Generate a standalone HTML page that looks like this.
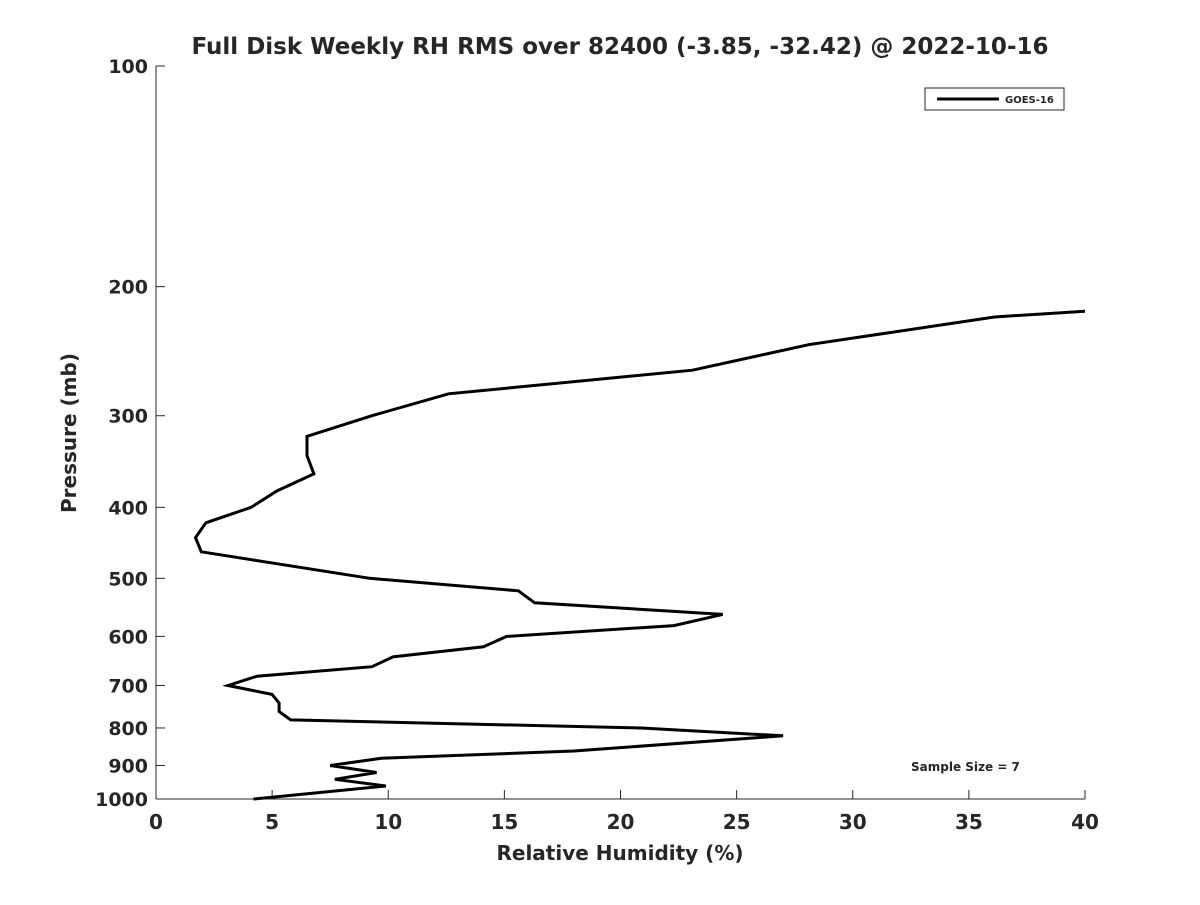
<!DOCTYPE html>
<html><head><meta charset="utf-8"><style>
body{margin:0;background:#fff;}
svg text{font-family:"DejaVu Sans","Liberation Sans",sans-serif;font-weight:bold;fill:#262626;}
</style></head><body>
<svg id="chart" width="1200" height="900" xmlns="http://www.w3.org/2000/svg">
<rect width="1200" height="900" fill="#fff"/>
<text x="620" y="54" font-size="23" text-anchor="middle">Full Disk Weekly RH RMS over 82400 (-3.85, -32.42) @ 2022-10-16</text>
<g id="axes"></g>
<text x="620" y="860" font-size="20" text-anchor="middle">Relative Humidity (%)</text>
<text transform="translate(76,433) rotate(-90)" font-size="20" text-anchor="middle">Pressure (mb)</text>
<g>
<rect x="925" y="88" width="139" height="22" fill="#fff" stroke="#262626" stroke-width="1"/>
<line x1="937" y1="99" x2="999" y2="99" stroke="#000" stroke-width="3"/>
<text x="1005" y="103" font-size="10">GOES-16</text>
</g>
<text x="911" y="771" font-size="12">Sample Size = 7</text>
</svg>
<script>
const pressures=[216,220,240,260,280,300,320,340,360,380,400,420,440,460,500,520,540,560,580,600,620,640,660,680,700,720,740,760,780,800,820,860,880,900,920,940,960,1000];
const rhValues=[40,36.1,28.1,23.1,12.6,9.3,6.5,6.5,6.8,5.2,4.1,2.15,1.7,1.95,9.2,15.6,16.3,24.4,22.3,15.1,14.1,10.2,9.3,4.35,3.1,5.0,5.3,5.3,5.8,20.9,27.0,18.0,9.7,7.5,9.5,7.7,9.9,4.2];
const xTicks=[0,5,10,15,20,25,30,35,40];
const yTicks=[100,200,300,400,500,600,700,800,900,1000];
const L=156,R=1085,T=66,B=799;
const xs=v=>L+(v-0)/(40-0)*(R-L);
const ys=p=>T+(Math.log10(p)-2)/(3-2)*(B-T);
const NS='http://www.w3.org/2000/svg';
const svg=document.getElementById('chart');
const ax=document.getElementById('axes');
function mk(tag,attrs,parent){const e=document.createElementNS(NS,tag);for(const k in attrs)e.setAttribute(k,attrs[k]);(parent||ax).appendChild(e);return e;}
let e=mk('line',{x1:L,y1:T,x2:L,y2:B,stroke:'#262626','stroke-width':1});


e=mk('line',{x1:L,y1:B,x2:R,y2:B,stroke:'#262626','stroke-width':1});


xTicks.forEach(v=>{
 const x=xs(v);
 let t=mk('line',{x1:x,y1:B,x2:x,y2:B-9,stroke:'#262626','stroke-width':1});
 
 
 let l=mk('text',{x:x,y:B+30,'font-size':20,'text-anchor':'middle'});
 l.textContent=v;
 
 
});
yTicks.forEach(p=>{
 const y=ys(p);
 let t=mk('line',{x1:L,y1:y,x2:L+9,y2:y,stroke:'#262626','stroke-width':1});
 
 
 let l=mk('text',{x:L-8,y:y+7,'font-size':19,'text-anchor':'end'});
 l.textContent=p;
 
 
});
const pts=pressures.map((p,i)=>xs(rhValues[i]).toFixed(1)+','+ys(p).toFixed(1)).join(' ');
const line=mk('polyline',{points:pts,fill:'none',stroke:'#000','stroke-width':3,'stroke-linejoin':'miter'},svg);


</script>
</body></html>
